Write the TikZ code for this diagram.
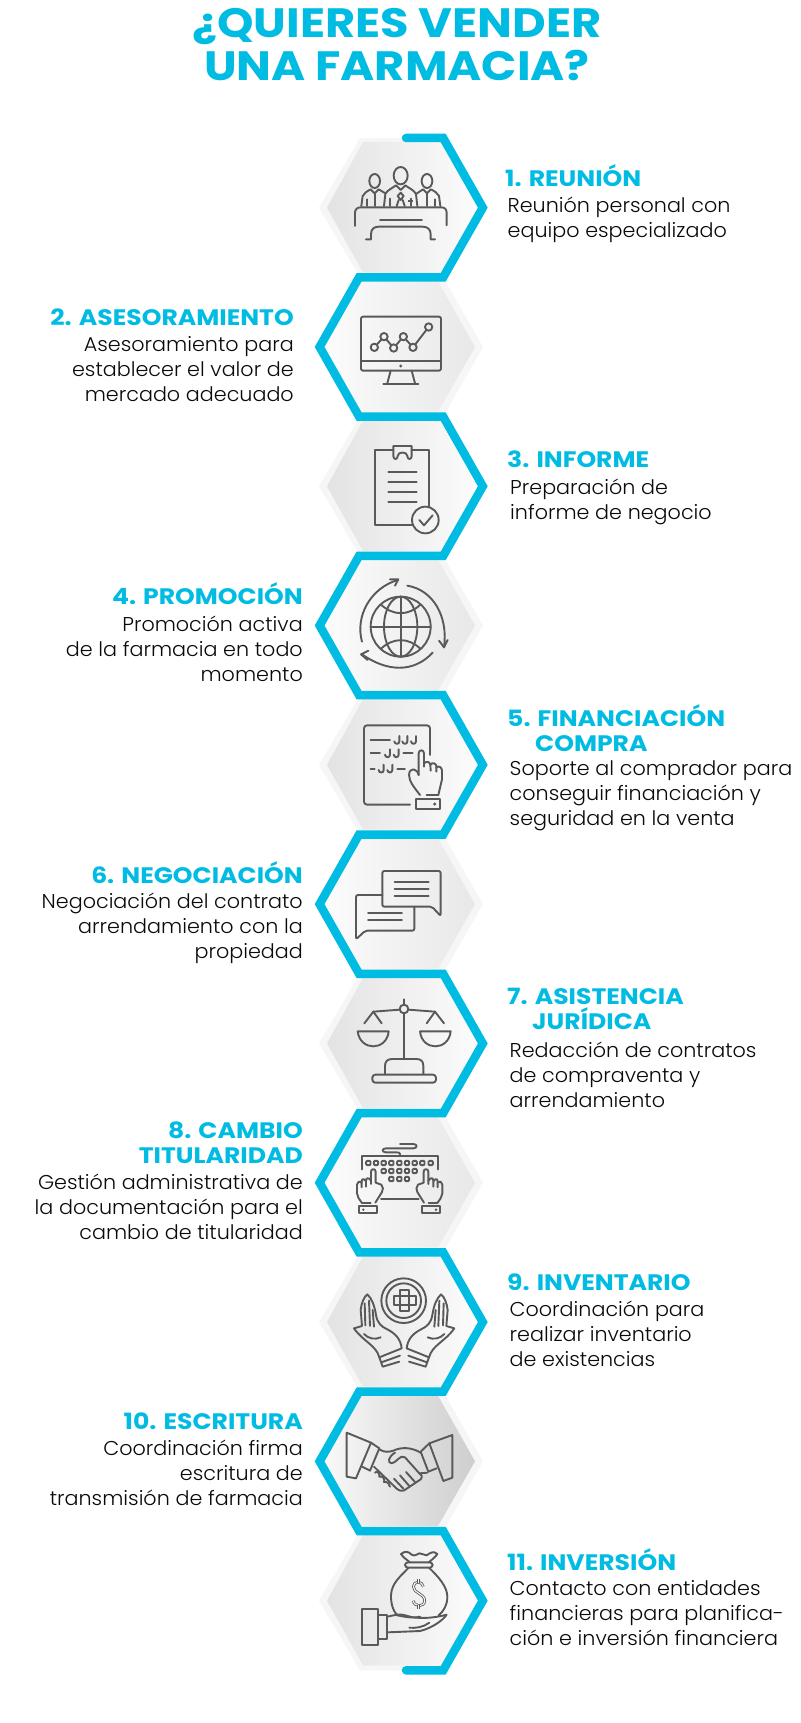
\documentclass[tikz,border=0pt]{standalone}
\usepackage{fontspec}
\setmainfont{Poppins}
\newfontfamily\titlef{Poppins}[UprightFont=* Bold,FakeStretch=1.13]
\newfontfamily\headf{Poppins}[UprightFont=* Bold,FakeStretch=1.12]
\newfontfamily\bodyf{Poppins}[UprightFont=* Light,FakeStretch=1.035]
\definecolor{azul}{HTML}{00BCE3}
\definecolor{icono}{HTML}{58595B}
\definecolor{halo}{HTML}{F6F6F6}
\definecolor{tinta}{HTML}{0A0A0A}
\tikzset{
  zm/.style 2 args={shift={(#1,#2)},x=0.33333pt,y=-0.33333pt},
  ic/.style={draw=icono,line width=1.9pt,line join=round,line cap=round},
  titulo/.style={inner sep=0pt,text=azul,align=center,font=\titlef\fontsize{41}{43}\selectfont},
  headL/.style={inner sep=0pt,anchor=base west,align=left,text=azul,font=\headf\fontsize{22.4}{25}\selectfont},
  headR/.style={inner sep=0pt,anchor=base east,align=right,text=azul,font=\headf\fontsize{22.4}{25}\selectfont},
  bodyL/.style={inner sep=0pt,anchor=base west,align=left,text=tinta,font=\bodyf\fontsize{20}{25}\selectfont},
  bodyR/.style={inner sep=0pt,anchor=base east,align=right,text=tinta,font=\bodyf\fontsize{20}{25}\selectfont},
}
\newcommand\keyhand{%
  \draw[ic] (213,492)--(213,455) .. controls (213,445) and (227,445) .. (227,455)--(227,488)--(244,494) .. controls (250,500) and (250,510) .. (246,516)--(226,548);
  \draw[ic] (213,482) .. controls (205,470) and (197,474) .. (198,484)--(198,500);
  \draw[ic] (198,484) .. controls (192,474) and (184,476) .. (185,486)--(185,502);
  \draw[ic] (185,488) .. controls (178,482) and (171,486) .. (171,494)--(171,520) .. controls (172,530) and (176,535) .. (186,549)--(212,549);
  \draw[ic] (177,558) rectangle (232,580);
  \fill[icono] (190,569) circle[radius=4];
}
\newcommand\carehand{%
  \draw[ic] (118,292) .. controls (108,255) and (70,245) .. (42,205)--(66,198)--(62,150) .. controls (64,130) and (72,110) .. (82,103) .. controls (95,115) and (103,135) .. (108,165) .. controls (112,190) and (125,200) .. (140,207) .. controls (170,222) and (182,240) .. (185,265)--(118,292);
  \draw[ic] (76,196)--(74,130);
  \draw[ic] (90,198)--(87,122);
  \draw[ic] (102,200)--(98,150);
  \draw[ic] (72,222) .. controls (85,236) and (105,240) .. (122,232);
  \draw[ic] (124,307)--(180,287);
  \draw[ic] (118,292)--(128,320)--(178,305);
}
\begin{document}
\begin{tikzpicture}[x=1pt,y=-1pt]
\useasboundingbox (0,0) rectangle (800,1723);
\fill[white] (0,0) rectangle (800,1723);

% hexagon backgrounds
\foreach \k in {0,2,4,6,8,10}{
  \pgfmathsetmacro\ya{138+139.3*\k}
  \pgfmathsetmacro\yb{\ya+69.65}
  \pgfmathsetmacro\yc{\ya+139.3}
  \fill[halo] (360,\ya)--(319,\yb)--(360,\yc)--(443,\yc)--(483,\yb)--(443,\ya)--cycle;
  \shade[left color=black!11,middle color=black!4,right color=black!1] (363,\ya+4)--(327,\yb)--(363,\yc-5)--(443,\yc-5)--(483,\yb)--(443,\ya+4)--cycle;
}
\foreach \k/\dk/\md/\lt in {1/E8E8E8/F6F6F6/FCFCFC,3/E8E8E8/F6F6F6/FCFCFC,5/E8E8E8/F6F6F6/FCFCFC,7/E8E8E8/F6F6F6/FCFCFC,9/CECECE/EAEAEA/FAFAFA}{
  \pgfmathsetmacro\ya{138+139.3*\k}
  \pgfmathsetmacro\yb{\ya+69.65}
  \pgfmathsetmacro\yc{\ya+139.3}
  \fill[halo] (359,\ya)--(320,\yb)--(359,\yc)--(443,\yc)--(483,\yb)--(443,\ya)--cycle;
  \definecolor{dk}{HTML}{\dk}
  \definecolor{md}{HTML}{\md}
  \definecolor{lt}{HTML}{\lt}
  \shade[left color=lt,middle color=md,right color=dk] (359,\ya+4)--(320,\yb)--(359,\yc-5)--(438,\yc-5)--(475,\yb)--(438,\ya+4)--cycle;
}

% blue ribbon
\draw[azul,line width=8.5pt,line join=miter] (406,138)--(443.2,138)--(482.8,207.65)--(443.2,277.3)--(359.1,277.3)--(319.6,346.95)--(359.1,416.6)--(443.2,416.6)--(482.8,486.25)--(443.2,555.9)--(359.1,555.9)--(319.6,625.55)--(359.1,695.2)--(443.2,695.2)--(482.8,764.85)--(443.2,834.5)--(359.1,834.5)--(319.6,904.15)--(359.1,973.8)--(443.2,973.8)--(482.8,1043.45)--(443.2,1113.1)--(359.1,1113.1)--(319.6,1182.75)--(359.1,1252.4)--(443.2,1252.4)--(482.8,1322.05)--(443.2,1391.7)--(359.1,1391.7)--(319.6,1461.35)--(359.1,1531)--(443.2,1531)--(482.8,1600.65)--(443.2,1670.3)--(406,1670.3);
\fill[azul] (406,138) circle[radius=4.25];
\fill[azul] (406,1670.3) circle[radius=4.25];

% icon 1: meeting
\begin{scope}[zm={300}{120}]
  \draw[ic] (224,183) ellipse[x radius=16,y radius=21];
  \draw[ic] (302,167) ellipse[x radius=21,y radius=26];
  \draw[ic] (381,183) ellipse[x radius=16,y radius=21];
  \draw[ic] (184,258)--(188,228) .. controls (192,218) and (202,214) .. (212,208)--(224,220)--(236,208)--(256,220);
  \draw[ic] (252,258)--(256,222) .. controls (262,210) and (278,204) .. (288,196)--(302,210)--(316,196) .. controls (326,204) and (342,210) .. (348,222)--(352,258);
  \draw[ic] (348,222)--(369,208)--(381,220)--(393,208) .. controls (403,214) and (413,218) .. (417,228)--(421,258);
  \draw[ic] (224,222)--(224,258);
  \draw[ic] (381,222)--(381,258);
  \draw[ic] (200,238)--(200,258);
  \draw[ic] (405,238)--(405,258);
  \draw[ic] (270,236)--(270,258);
  \draw[ic] (334,236)--(334,258);
  \draw[ic] (302,218)--(311,228)--(302,240)--(293,228)--cycle;
  \draw[ic] (296,240)--(290,258);
  \draw[ic] (308,240)--(314,258);
  \fill[icono] (323,240) rectangle (338,246);
  \draw[ic] (165,318)--(165,278) .. controls (165,268) and (172,262) .. (182,262)--(424,262) .. controls (434,262) and (440,268) .. (440,278)--(440,316);
  \draw[ic] (240,300)--(366,300);
  \draw[ic] (198,358)--(213,358)--(213,342) .. controls (213,328) and (222,320) .. (236,320)--(368,320) .. controls (382,320) and (392,328) .. (392,342)--(392,358)--(405,358);
\end{scope}

% icon 2: monitor
\begin{scope}[zm={300}{120}]
  \draw[ic,rounded corners=2pt] (183,590) rectangle (423,752);
  \draw[ic] (183,722)--(423,722);
  \fill[icono] (302,738) circle[radius=5];
  \draw[ic] (272,752)--(262,790);
  \draw[ic] (335,752)--(345,790);
  \draw[ic] (250,792)--(355,792);
  \foreach \c in {(223,682),(252,650),(281,684),(310,650),(339,682),(386,621)}
    \draw[ic] \c circle[radius=11];
  \draw[ic,shorten >=3.6pt,shorten <=3.6pt] (223,682)--(252,650);
  \draw[ic,shorten >=3.6pt,shorten <=3.6pt] (252,650)--(281,684);
  \draw[ic,shorten >=3.6pt,shorten <=3.6pt] (281,684)--(310,650);
  \draw[ic,shorten >=3.6pt,shorten <=3.6pt] (310,650)--(339,682);
  \draw[ic,shorten >=3.6pt,shorten <=3.6pt] (339,682)--(386,621);
\end{scope}

% icon 3: clipboard
\begin{scope}[zm={300}{420}]
  \draw[ic] (336,315)--(225,315)--(225,90)--(280,90);
  \draw[ic] (335,90)--(388,90)--(388,262);
  \draw[ic] (280,90)--(280,78)--(335,78)--(335,108) .. controls (335,120) and (322,120) .. (322,108) .. controls (322,94) and (293,94) .. (293,108) .. controls (293,120) and (280,120) .. (280,108)--(280,90);
  \foreach \yy in {156,186,216,246} \draw[ic] (265,\yy)--(350,\yy);
  \draw[ic] (376,300) circle[radius=40];
  \draw[ic] (358,300)--(372,316)--(398,286);
\end{scope}

% icon 4: globe
\begin{scope}[zm={300}{420}]
  \draw[ic] (302,620) circle[radius=90];
  \draw[ic] (302,620) ellipse[x radius=50,y radius=90];
  \draw[ic] (302,530)--(302,710);
  \draw[ic] (212,620)--(392,620);
  \draw[ic] (243,554) .. controls (280,588) and (325,588) .. (361,554);
  \draw[ic] (243,686) .. controls (280,652) and (325,652) .. (361,686);
  \draw[ic] (186,665) .. controls (165,590) and (210,505) .. (293,480);
  \draw[ic] (270,478)--(295,478)--(285,497);
  \draw[ic] (322,497) .. controls (400,510) and (445,590) .. (432,682);
  \draw[ic] (417,662)--(432,682)--(443,660);
  \draw[ic] (398,698) .. controls (340,760) and (260,755) .. (186,703);
  \draw[ic] (205,692)--(183,703)--(203,720);
\end{scope}

% icon 5: document and hand
\begin{scope}[zm={300}{720}]
  \draw[ic,rounded corners=3pt] (330,254)--(192,254)--(192,16)--(390,16)--(390,105);
  \draw[ic] (212,60)--(270,60);
  \foreach \xx/\yy in {298/60,322/60,348/60,270/100,296/100,251/146,277/146}
    \draw[ic] (\xx,\yy-12)--(\xx,\yy+4) .. controls (\xx,\yy+14) and (\xx-14,\yy+14) .. (\xx-15,\yy+4);
  \draw[ic] (212,100)--(240,100);
  \draw[ic] (310,100)--(338,100);
  \draw[ic] (212,146)--(224,146);
  \draw[ic] (292,146)--(315,146);
  \draw[ic] (356,165)--(356,100) .. controls (356,88) and (372,88) .. (372,100)--(372,140);
  \draw[ic] (372,130) .. controls (380,122) and (390,126) .. (391,134)--(392,152);
  \draw[ic] (391,134) .. controls (398,126) and (408,130) .. (409,138)--(409,155);
  \draw[ic] (409,142) .. controls (416,136) and (426,142) .. (426,152)--(426,178)--(415,225)--(380,225);
  \draw[ic] (356,165) .. controls (352,145) and (328,140) .. (327,165) .. controls (327,185) and (345,205) .. (360,225);
  \draw[ic] (348,237) rectangle (420,267);
  \fill[icono] (404,252) circle[radius=5];
\end{scope}

% icon 6: chat bubbles
\begin{scope}[zm={300}{720}]
  \draw[ic,rounded corners=2pt] (247,453)--(422,453)--(422,588)--(396,560)--(247,560)--cycle;
  \foreach \yy in {486,506,528} \draw[ic] (284,\yy)--(386,\yy);
  \draw[ic,rounded corners=2pt] (247,525)--(168,525)--(168,658)--(196,632)--(343,632)--(343,560);
  \foreach \yy in {578,600} \draw[ic] (204,\yy)--(306,\yy);
\end{scope}

% icon 7: scales
\begin{scope}[zm={340}{990}]
  \draw[ic] (192,28)--(192,44);
  \draw[ic] (192,70)--(192,205);
  \draw[ic] (192,57) circle[radius=13];
  \draw[ic] (179,59)--(100,65);
  \draw[ic] (205,59)--(285,65);
  \draw[ic] (73,100)--(100,65)--(125,100);
  \draw[ic] (260,100)--(285,65)--(312,100);
  \draw[ic] (53,124)--(146,124) .. controls (140,184) and (60,184) .. (53,124);
  \draw[ic] (240,124)--(332,124) .. controls (326,184) and (246,184) .. (240,124);
  \draw[ic] (135,252)--(135,228) .. controls (135,214) and (143,207) .. (156,207)--(230,207) .. controls (243,207) and (250,214) .. (250,228)--(250,252);
  \draw[ic,rounded corners=3pt] (97,254) rectangle (288,278);
\end{scope}

% icon 8: keyboard
\begin{scope}[zm={300}{1020}]
  \draw[ic] (300,408)--(300,402) .. controls (300,398) and (296,397) .. (290,397)--(258,397) .. controls (245,397) and (245,385) .. (258,385)--(340,385) .. controls (353,385) and (353,372) .. (340,372)--(300,372);
  \draw[ic] (185,448)--(185,408)--(413,408)--(413,448);
  \foreach \xx in {205,228,251,274,298,321,344,367,392}
    \draw[ic,rounded corners=1pt] (\xx-6.5,422.5) rectangle (\xx+6.5,435.5);
  \foreach \xx in {251,274,298,321,344}
    \draw[ic,rounded corners=1pt] (\xx-6.5,446.5) rectangle (\xx+6.5,459.5);
  \foreach \xx in {274,298,321}
    \draw[ic,rounded corners=1pt] (\xx-6.5,470.5) rectangle (\xx+6.5,483.5);
  \draw[ic] (243,538)--(356,538);
  \keyhand
  \begin{scope}[shift={(598,0)},xscale=-1]
    \keyhand
  \end{scope}
\end{scope}

% icon 9: care hands with cross
\begin{scope}[zm={340}{1260}]
  \draw[ic] (191,122) circle[radius=67];
  \draw[ic] (191,122) circle[radius=52];
  \draw[ic] (181,90)--(207,90)--(207,109)--(228,109)--(228,135)--(207,135)--(207,152)--(181,152)--(181,135)--(163,135)--(163,109)--(181,109)--cycle;
  \draw[ic] (181,109)--(207,109)--(207,135)--(181,135)--cycle;
  \carehand
  \begin{scope}[shift={(385,0)},xscale=-1]
    \carehand
  \end{scope}
\end{scope}

% icon 10: handshake
\begin{scope}[zm={300}{1300}]
  \draw[ic] (140,398)--(213,428)--(168,535)--(140,530)--cycle;
  \draw[ic] (213,428)--(238,445)--(210,512)--(186,500);
  \draw[ic] (457,405)--(388,430)--(430,543)--(457,533)--cycle;
  \draw[ic] (388,430)--(362,455)--(385,515)--(410,505);
  \draw[ic] (238,448) .. controls (252,458) and (268,456) .. (280,452) .. controls (305,440) and (335,442) .. (362,458);
  \draw[ic] (222,500)--(290,566) .. controls (300,575) and (312,574) .. (320,566)--(362,538) .. controls (368,530) and (366,524) .. (358,520)--(315,472) .. controls (300,462) and (290,488) .. (275,490) .. controls (262,490) and (264,470) .. (285,458);
  \draw[ic] (358,520)--(382,518);
  \draw[ic] (345,546)--(318,516);
  \draw[ic] (328,558)--(300,526);
  \draw[ic] (310,566)--(282,536);
  \draw[ic] (225,518) .. controls (232,510) and (240,522) .. (238,530) .. controls (248,526) and (256,538) .. (252,546) .. controls (262,544) and (270,552) .. (270,560);
\end{scope}

% icon 11: money bag
\begin{scope}[zm={300}{1300}]
  \draw[ic] (330,787) .. controls (318,778) and (308,770) .. (303,762) .. controls (315,752) and (325,754) .. (335,764) .. controls (345,770) and (350,762) .. (358,760) .. controls (368,758) and (372,768) .. (380,766) .. controls (390,758) and (402,752) .. (412,762) .. controls (405,772) and (395,780) .. (386,787);
  \draw[ic,rounded corners=3pt] (315,787) rectangle (398,803);
  \draw[ic] (325,804) .. controls (300,830) and (275,850) .. (273,885) .. controls (272,910) and (280,935) .. (292,946);
  \draw[ic] (388,804) .. controls (415,830) and (442,860) .. (442,890) .. controls (442,915) and (432,932) .. (416,946);
  \draw[ic] (292,946) .. controls (330,954) and (345,954) .. (360,950);
  \draw[icono,line width=.8pt,double=halo,double distance=1.1pt] (370,860) .. controls (368,842) and (340,842) .. (340,860) .. controls (340,880) and (374,880) .. (374,902) .. controls (374,922) and (342,922) .. (340,902);
  \draw[icono,line width=.8pt,double=halo,double distance=1.1pt] (356,838)--(356,848);
  \draw[icono,line width=.8pt,double=halo,double distance=1.1pt] (356,914)--(356,926);
  \draw[ic] (185,928) rectangle (235,1035);
  \draw[ic] (235,945) rectangle (262,1018);
  \draw[ic] (262,950) .. controls (285,945) and (300,940) .. (320,947) .. controls (350,958) and (400,955) .. (440,944) .. controls (430,960) and (395,985) .. (360,993)--(262,997);
  \draw[ic] (328,983) .. controls (345,985) and (370,982) .. (388,968);
\end{scope}

% title
\node[titulo] (title) at (397,45) {¿QUIERES VENDER\\UNA FARMACIA?};

% labels
\node[headL] (h1) at (505,186.7) {1. REUNIÓN};
\node[bodyL] (b1) at (507.5,237) {Reunión personal con\\equipo especializado};
\node[headR] (h2) at (294,325.7) {2. ASESORAMIENTO};
\node[bodyR] (b2) at (294,401.7) {Asesoramiento para\\establecer el valor de\\mercado adecuado};
\node[headL] (h3) at (507,467) {3. INFORME};
\node[bodyL] (b3) at (510,519) {Preparación de\\informe de negocio};
\node[headR] (h4) at (303,604.5) {4. PROMOCIÓN};
\node[bodyR] (b4) at (303,681) {Promoción activa\\de la farmacia en todo\\momento};
\node[headL] (h5) at (507,751) {5. FINANCIACIÓN\\\hspace*{28pt}COMPRA};
\node[bodyL] (b5) at (509.5,825.5) {Soporte al comprador para\\conseguir financiación y\\seguridad en la venta};
\node[headR] (h6) at (303,883) {6. NEGOCIACIÓN};
\node[bodyR] (b6) at (303,958.5) {Negociación del contrato\\arrendamiento con la\\propiedad};
\node[headL] (h7) at (507,1029) {7. ASISTENCIA\\\hspace*{25pt}JURÍDICA};
\node[bodyL] (b7) at (509.5,1107.5) {Redacción de contratos\\de compraventa y\\arrendamiento};
\node[headR] (h8) at (303,1163) {8. CAMBIO\\TITULARIDAD};
\node[bodyR] (b8) at (303,1239) {Gestión administrativa de\\la documentación para el\\cambio de titularidad};
\node[headL] (h9) at (507,1290) {9. INVENTARIO};
\node[bodyL] (b9) at (509.5,1366) {Coordinación para\\realizar inventario\\de existencias};
\node[headR] (h10) at (303,1429) {10. ESCRITURA};
\node[bodyR] (b10) at (303,1505) {Coordinación firma\\escritura de\\transmisión de farmacia};
\node[headL] (h11) at (507,1570) {11. INVERSIÓN};
\node[bodyL] (b11) at (509.5,1645) {Contacto con entidades\\financieras para planifica-\\ción e inversión financiera};
\end{tikzpicture}
\end{document}
